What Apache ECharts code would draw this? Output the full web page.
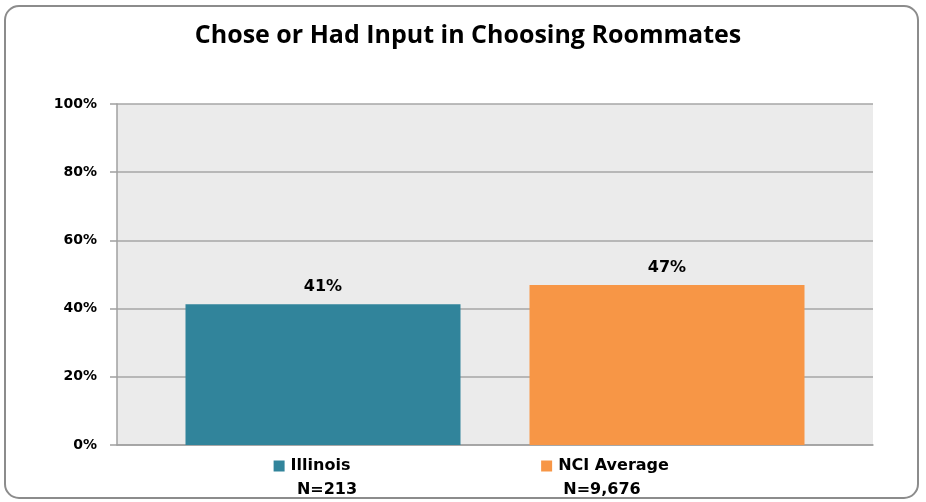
<!DOCTYPE html>
<html>
<head>
<meta charset="utf-8">
<script src="https://cdn.jsdelivr.net/npm/echarts@6/dist/echarts.min.js"></script>
<style>
  html, body { margin: 0; padding: 0; background: #fff; }
  #main { width: 926px; height: 502px; }
</style>
</head>
<body>
<div id="main"></div>
<script>
var categories = ['Illinois', 'NCI Average'];
var sampleSizes = ['N=213', 'N=9,676'];
var values = [41.3, 46.9];
var barColors = ['#31849b', '#f79646'];
var yTicks = [0, 20, 40, 60, 80, 100];

var labelFont = 'DejaVu Sans';
// spacer widths push each label line off the bar centre, like the original
var line1Shift = [22, 124];
var line2Left = [8, 0];
var line2Shift = [0, 130];

var rich = {
    t: { fontFamily: labelFont, fontWeight: 'bold', fontSize: 16, color: '#000', padding: [0, 0, 0, 6], lineHeight: 24 },
    n: { fontFamily: labelFont, fontWeight: 'bold', fontSize: 16, color: '#000', lineHeight: 24 }
};
categories.forEach(function (c, i) {
    rich['m' + i] = { width: 11, height: 11, backgroundColor: barColors[i] };
    rich['a' + i] = { width: line1Shift[i] };
    rich['b' + i] = { width: line2Shift[i] };
    rich['c' + i] = { width: line2Left[i] };
});

var myChart = echarts.init(document.getElementById('main'));
var option = {
    animation: false,
    title: {
        text: 'Chose or Had Input in Choosing Roommates',
        left: 463,
        textAlign: 'center',
        top: 18,
        textStyle: { fontFamily: 'Open Sans', fontWeight: 'bold', fontSize: 25, color: '#000' }
    },
    graphic: [{
        type: 'rect',
        shape: { x: 5, y: 6, width: 913, height: 492, r: 14 },
        style: { fill: 'none', stroke: '#8c8c8c', lineWidth: 2 },
        z: -1
    }],
    grid: [
        { left: 117, right: 53, top: 104, bottom: 57, show: true, backgroundColor: '#ebebeb', borderWidth: 0 },
        { left: 151, right: 87, top: 104, bottom: 57 }
    ],
    xAxis: [
        {
            type: 'category', gridIndex: 0, data: categories,
            axisLine: { lineStyle: { color: '#a0a0a0', width: 1.5 } },
            axisTick: { show: false },
            axisLabel: { show: false }
        },
        {
            type: 'category', gridIndex: 1, data: categories,
            axisLine: { show: false },
            axisTick: { show: false },
            axisLabel: {
                margin: 9,
                interval: 0,
                formatter: function (v, i) {
                    return '{m' + i + '|}{t|' + v + '}{a' + i + '|}\n{c' + i + '|}{n|' + sampleSizes[i] + '}{b' + i + '|}';
                },
                rich: rich
            }
        }
    ],
    yAxis: [
        {
            type: 'value', gridIndex: 0,
            min: yTicks[0], max: yTicks[yTicks.length - 1], interval: 20,
            axisLine: { show: true, lineStyle: { color: '#a0a0a0', width: 1.5 } },
            axisTick: { show: true, length: 7, lineStyle: { color: '#a0a0a0', width: 1.5 } },
            splitLine: { lineStyle: { color: '#a6a6a6', width: 1.5 } },
            axisLabel: {
                margin: 20,
                formatter: function (v) { return v + '%'; },
                fontFamily: labelFont, fontWeight: 'bold', fontSize: 14, color: '#000'
            }
        },
        {
            type: 'value', gridIndex: 1,
            min: yTicks[0], max: yTicks[yTicks.length - 1],
            show: false
        }
    ],
    series: [{
        type: 'bar',
        xAxisIndex: 1,
        yAxisIndex: 1,
        barWidth: 275,
        data: values.map(function (v, i) {
            return { value: v, itemStyle: { color: barColors[i] } };
        }),
        label: {
            show: true,
            position: 'top',
            distance: 9,
            formatter: function (p) { return Math.round(p.value) + '%'; },
            fontFamily: labelFont, fontWeight: 'bold', fontSize: 16, color: '#000'
        }
    }]
};
myChart.setOption(option);
</script>
</body>
</html>
